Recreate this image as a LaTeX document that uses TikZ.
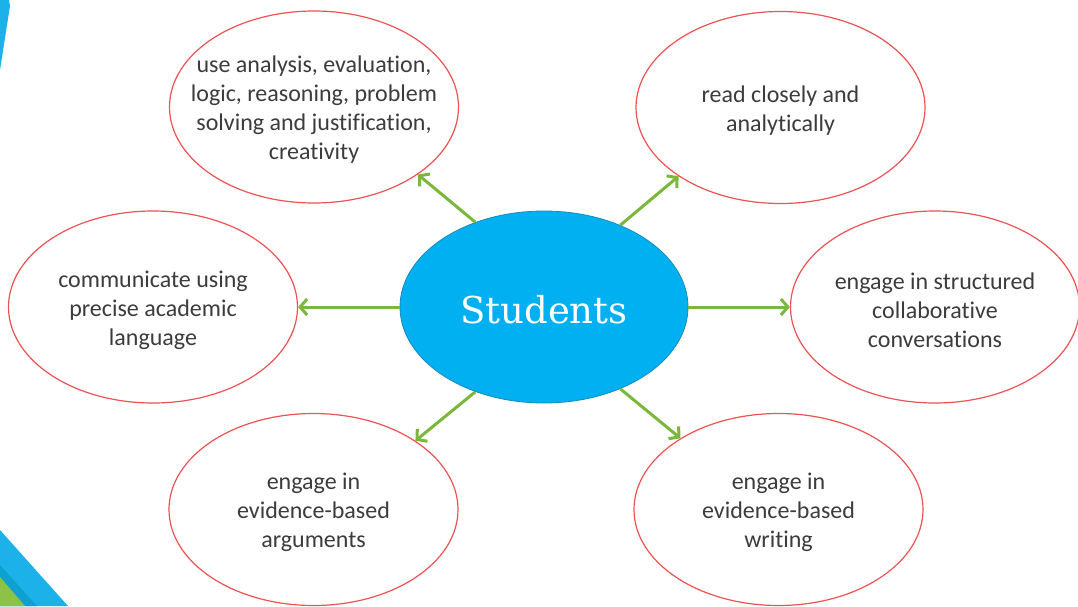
\documentclass[tikz,border=0pt]{standalone}
\usepackage{fontspec}
\setmainfont{Carlito}[Ligatures=NoCommon]
\newfontfamily\slabfont{DejaVu Serif}
\usetikzlibrary{shapes.geometric,arrows.meta}

\definecolor{hubblue}{RGB}{0,176,240}
\definecolor{hubedge}{RGB}{20,140,190}
\definecolor{ringred}{RGB}{238,82,82}
\definecolor{linkgreen}{RGB}{122,183,58}
\definecolor{bodytext}{RGB}{60,60,60}
\definecolor{bandblue}{RGB}{28,178,233}
\definecolor{banddark}{RGB}{14,160,208}
\definecolor{bandgreen}{RGB}{140,195,70}

\tikzset{
  hub/.style={ellipse, fill=hubblue, draw=hubedge, line width=0.8pt,
    minimum width=288pt, minimum height=192pt, inner sep=0pt,
    text=white, font=\slabfont\fontsize{37}{40}\selectfont},
  hublabel/.style={text=white, inner sep=0pt, yshift=-3pt,
    font=\slabfont\fontsize{37}{40}\selectfont},
  goal/.style={ellipse, draw=ringred, line width=1.2pt, fill=white,
    minimum width=289pt, minimum height=192pt, inner sep=0pt},
  goaltext/.style={text=bodytext, align=center, inner sep=0pt, yshift=-3pt,
    font=\fontsize{24}{29}\selectfont},
  link/.style={draw=linkgreen, line width=3pt,
    -{Straight Barb[length=7pt,width=16pt]}},
}

\begin{document}
\begin{tikzpicture}[x=1pt,y=-1pt]
  \useasboundingbox (0,0) rectangle (1078,606);

  % corner accents
  \fill[bandblue] (0,0) -- (9,0) -- (10,6) -- (0,70) -- cycle;
  \fill[bandblue] (0,530) -- (68,606) -- (0,606) -- cycle;
  \fill[banddark] (0,565) -- (37,606) -- (0,606) -- cycle;
  \fill[bandgreen] (0,577) -- (25,606) -- (0,606) -- cycle;

  % outer goals: fixed-size rings, text set on top
  \node[goal] (tl) at (314,107) {};
  \node[goal] (tr) at (780.5,107.5) {};
  \node[goal] (l) at (153,307) {};
  \node[goal] (r) at (935,307) {};
  \node[goal] (bl) at (313.5,509.5) {};
  \node[goal] (br) at (778.5,509.5) {};

  \node[goaltext] (tlt) at (tl) {use analysis, evaluation,\\logic, reasoning, problem\\solving and justification,\\creativity};
  \node[goaltext] (trt) at (tr) {read closely and\\analytically};
  \node[goaltext] (lt) at (l) {communicate using\\precise academic\\language};
  \node[goaltext] (rt) at (r) {engage in structured\\collaborative\\conversations};
  \node[goaltext] (blt) at (bl) {engage in\\evidence-based\\arguments};
  \node[goaltext] (brt) at (br) {engage in\\evidence-based\\writing};

  % central node
  \node[hub] (s) at (544,307) {};
  \node[hublabel] (st) at (s) {Students};

  % connectors
  \draw[link] (s.129) -- (tl.-33.6);
  \draw[link] (s.47.5) -- (tr.-146);
  \draw[link] (s.180) -- (l.0);
  \draw[link] (s.0) -- (r.180);
  \draw[link] (s.231.8) -- (bl.34.6);
  \draw[link] (s.-47.5) -- (br.144);
\end{tikzpicture}
\end{document}
